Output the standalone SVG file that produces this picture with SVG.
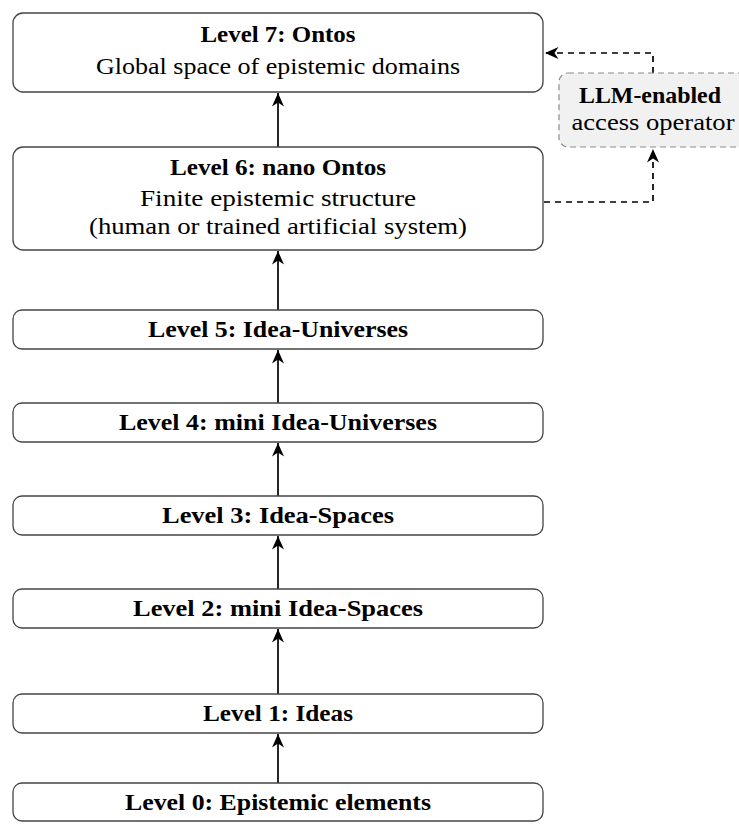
<svg xmlns="http://www.w3.org/2000/svg" width="739" height="824" viewBox="0 0 739 824">
<defs>
<style>
.box{fill:#fff;stroke:#444;stroke-width:1.3}
.llm{fill:#f1f1f1;stroke:#8c8c8c;stroke-width:1.2;stroke-dasharray:6 4}
.t{font-family:"Liberation Serif","Times New Roman",serif;font-size:24px;fill:#000;text-anchor:middle}
.b{font-weight:bold}
.arr{fill:none;stroke:#000;stroke-width:1.7}
.dash{fill:none;stroke:#000;stroke-width:1.7;stroke-dasharray:6 5}
</style>
<marker id="ah" viewBox="-15 -7 16 14" markerWidth="16" markerHeight="14" refX="0" refY="0" orient="auto" markerUnits="userSpaceOnUse">
<path d="M-13.5,-6 L0,0 L-13.5,6 L-9.5,0 Z" fill="#000"/>
</marker>
</defs>
<g id="connectors">
<path class="arr" d="M278,147 V93" marker-end="url(#ah)"/>
<path class="arr" d="M278,310 V251" marker-end="url(#ah)"/>
<path class="arr" d="M278,403 V350" marker-end="url(#ah)"/>
<path class="arr" d="M278,496 V443" marker-end="url(#ah)"/>
<path class="arr" d="M278,589 V536" marker-end="url(#ah)"/>
<path class="arr" d="M278,694 V629" marker-end="url(#ah)"/>
<path class="arr" d="M278,783 V734" marker-end="url(#ah)"/>
<path class="dash" d="M653,73 V53 H545" marker-end="url(#ah)"/>
<path class="dash" d="M544,202 H653 V149" marker-end="url(#ah)"/>
</g>
<g id="level7">
<rect class="box" x="13" y="13" width="530" height="79" rx="10"/>
<text class="t b" x="278" y="42" textLength="155" lengthAdjust="spacingAndGlyphs">Level 7: Ontos</text>
<text class="t" x="278" y="74" textLength="364" lengthAdjust="spacingAndGlyphs">Global space of epistemic domains</text>
</g>
<g id="llm">
<rect class="llm" x="559" y="73" width="190" height="74" rx="9"/>
<text class="t b" x="650" y="103" textLength="142" lengthAdjust="spacingAndGlyphs">LLM-enabled</text>
<text class="t" x="653" y="130" textLength="163" lengthAdjust="spacingAndGlyphs">access operator</text>
</g>
<g id="level6">
<rect class="box" x="13" y="147" width="530" height="103" rx="10"/>
<text class="t b" x="278" y="175" textLength="216" lengthAdjust="spacingAndGlyphs">Level 6: nano Ontos</text>
<text class="t" x="278" y="206" textLength="276" lengthAdjust="spacingAndGlyphs">Finite epistemic structure</text>
<text class="t" x="278" y="234" textLength="378" lengthAdjust="spacingAndGlyphs">(human or trained artificial system)</text>
</g>
<g id="level5">
<rect class="box" x="13" y="310" width="530" height="39" rx="9"/>
<text class="t b" x="278" y="337" textLength="260" lengthAdjust="spacingAndGlyphs">Level 5: Idea-Universes</text>
</g>
<g id="level4">
<rect class="box" x="13" y="403" width="530" height="39" rx="9"/>
<text class="t b" x="278" y="430" textLength="318" lengthAdjust="spacingAndGlyphs">Level 4: mini Idea-Universes</text>
</g>
<g id="level3">
<rect class="box" x="13" y="496" width="530" height="39" rx="9"/>
<text class="t b" x="278" y="523" textLength="232" lengthAdjust="spacingAndGlyphs">Level 3: Idea-Spaces</text>
</g>
<g id="level2">
<rect class="box" x="13" y="589" width="530" height="39" rx="9"/>
<text class="t b" x="278" y="616" textLength="290" lengthAdjust="spacingAndGlyphs">Level 2: mini Idea-Spaces</text>
</g>
<g id="level1">
<rect class="box" x="13" y="694" width="530" height="39" rx="9"/>
<text class="t b" x="278" y="721" textLength="150" lengthAdjust="spacingAndGlyphs">Level 1: Ideas</text>
</g>
<g id="level0">
<rect class="box" x="13" y="783" width="530" height="38" rx="9"/>
<text class="t b" x="278" y="810" textLength="306" lengthAdjust="spacingAndGlyphs">Level 0: Epistemic elements</text>
</g>
</svg>
